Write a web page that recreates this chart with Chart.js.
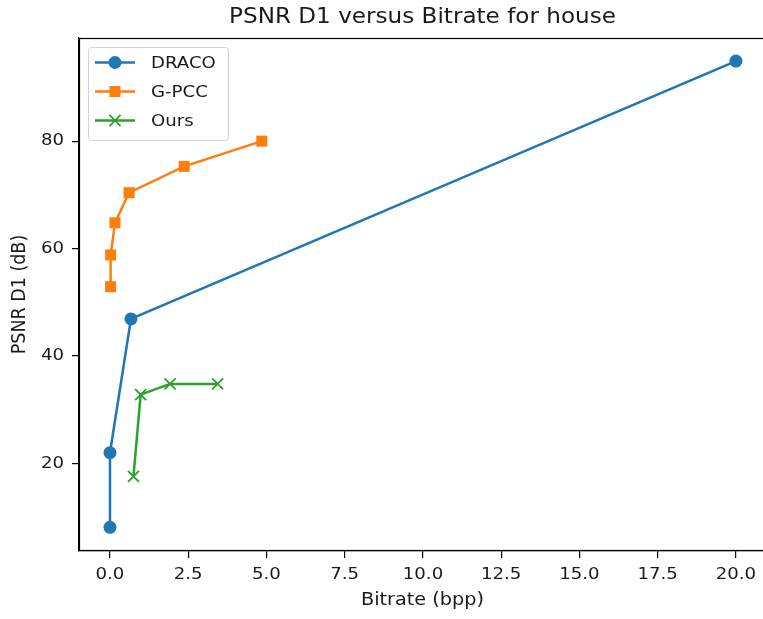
<!DOCTYPE html>
<html>
<head>
<meta charset="utf-8">
<script src="https://cdn.jsdelivr.net/npm/chart.js@4/dist/chart.umd.min.js"></script>
<style>
  html, body { margin: 0; padding: 0; background: #fff; overflow: hidden; }
  #wrap { width: 763px; height: 619px; overflow: hidden; }
</style>
</head>
<body>
<div id="wrap"><canvas id="psnrChart" width="780" height="619"></canvas></div>
<script>
// --- DATA ---
const seriesNames = ['DRACO', 'G-PCC', 'Ours'];
const dracoX = [0.0, 0.0, 0.67, 20.0];
const dracoY = [8.1, 22.0, 46.9, 94.9];
const gpccX = [0.02, 0.02, 0.16, 0.61, 2.37, 4.85];
const gpccY = [52.9, 58.8, 64.8, 70.4, 75.3, 80.0];
const oursX = [0.75, 0.98, 1.92, 3.44];
const oursY = [17.6, 32.8, 34.8, 34.8];
const xTicks = [0, 2.5, 5, 7.5, 10, 12.5, 15, 17.5, 20];
const yTicks = [20, 40, 60, 80];

const FONT = "'DejaVu Sans', sans-serif";
const TEXT = '#1a1a1a';
const SX = 1.1; // the picture's text is a bit wider than tall

function toPoints(xs, ys) {
    return xs.map((x, i) => ({ x: x, y: ys[i] }));
}

function drawText(ctx, text, x, y, size, align, rot) {
    ctx.save();
    ctx.translate(x, y);
    ctx.scale(SX, 1);
    if (rot) ctx.rotate(rot);
    ctx.font = size + 'px ' + FONT;
    ctx.fillStyle = TEXT;
    ctx.textAlign = align;
    ctx.textBaseline = 'middle';
    ctx.fillText(text, 0, 0);
    ctx.restore();
}

// title, frame, tick labels and legend drawn on the canvas
const decorPlugin = {
    id: 'decor',
    afterDraw(chart) {
        const ctx = chart.ctx;
        const a = chart.chartArea;
        const xs = chart.scales.x, ys = chart.scales.y;
        ctx.save();

        // frame
        ctx.strokeStyle = '#000';
        ctx.lineWidth = 1.2;
        ctx.strokeRect(a.left + 0.5, a.top + 0.5, a.right - a.left - 1, a.bottom - a.top - 1);

        // title + axis titles
        const cx = (a.left + a.right) / 2;
        drawText(ctx, 'PSNR D1 versus Bitrate for house', cx, 18, 21, 'center');
        drawText(ctx, 'Bitrate (bpp)', cx, 600, 17.5, 'center');
        drawText(ctx, 'PSNR D1 (dB)', 20, (a.top + a.bottom) / 2, 17.5, 'center', -Math.PI / 2);

        // tick labels
        xTicks.forEach(v => drawText(ctx, v.toFixed(1), xs.getPixelForValue(v), 575, 16.5, 'center'));
        yTicks.forEach(v => drawText(ctx, String(v), 64, ys.getPixelForValue(v), 16.5, 'right'));

        // legend
        const bx = 88.5, by = 47.5, bw = 140, bh = 93;
        ctx.fillStyle = 'rgba(255,255,255,0.8)';
        ctx.strokeStyle = '#d4d4d4';
        ctx.lineWidth = 1;
        ctx.beginPath();
        ctx.roundRect(bx, by, bw, bh, 3);
        ctx.fill();
        ctx.stroke();

        chart.data.datasets.forEach((ds, i) => {
            const yy = 62.5 + i * 29;
            ctx.strokeStyle = ds.borderColor;
            ctx.lineWidth = ds.borderWidth;
            ctx.beginPath();
            ctx.moveTo(95, yy);
            ctx.lineTo(135, yy);
            ctx.stroke();
            ctx.fillStyle = ds.pointBackgroundColor;
            ctx.strokeStyle = ds.pointBorderColor;
            ctx.lineWidth = ds.pointBorderWidth;
            Chart.helpers.drawPoint(ctx, {
                pointStyle: ds.pointStyle,
                radius: ds.pointRadius,
                borderWidth: ds.pointBorderWidth
            }, 115, yy);
            drawText(ctx, ds.label, 151, yy + 1, 16.5, 'left');
        });
        ctx.restore();
    }
};

const colors = ['#1f77b4', '#ff7f0e', '#2ca02c'];

function makeSet(i, xs, ys, style, radius, bw) {
    return {
        label: seriesNames[i],
        data: toPoints(xs, ys),
        showLine: true,
        borderColor: colors[i],
        backgroundColor: colors[i],
        borderWidth: 2.5,
        pointStyle: style,
        pointRadius: radius,
        pointBorderWidth: bw,
        pointBackgroundColor: colors[i],
        pointBorderColor: colors[i]
    };
}

const ctx = document.getElementById('psnrChart').getContext('2d');
new Chart(ctx, {
    type: 'scatter',
    data: {
        datasets: [
            makeSet(0, dracoX, dracoY, 'circle', 6.5, 0),
            makeSet(1, gpccX, gpccY, 'rect', 7.8, 0),
            makeSet(2, oursX, oursY, 'crossRot', 7.8, 1.8)
        ]
    },
    options: {
        responsive: false,
        animation: false,
        layout: { padding: { top: 38, right: 14, left: 0, bottom: 0 } },
        plugins: {
            legend: { display: false },
            tooltip: { enabled: false },
            title: { display: false }
        },
        scales: {
            x: {
                type: 'linear',
                min: -0.99,
                max: 20.96,
                afterBuildTicks: axis => { axis.ticks = xTicks.map(v => ({ value: v })); },
                afterFit: axis => { axis.height = 68; },
                grid: { drawOnChartArea: false, drawTicks: true, tickLength: 7, color: '#000', lineWidth: 1.2 },
                border: { display: true, color: '#000', width: 1.2 },
                ticks: { color: 'rgba(0,0,0,0)', autoSkip: false, maxRotation: 0 }
            },
            y: {
                type: 'linear',
                min: 3.7,
                max: 99.2,
                afterBuildTicks: axis => { axis.ticks = yTicks.map(v => ({ value: v })); },
                afterFit: axis => { axis.width = 79; },
                grid: { drawOnChartArea: false, drawTicks: true, tickLength: 7, color: '#000', lineWidth: 1.2 },
                border: { display: true, color: '#000', width: 1.2 },
                ticks: { color: 'rgba(0,0,0,0)', autoSkip: false }
            }
        }
    },
    plugins: [decorPlugin]
});
</script>
</body>
</html>
